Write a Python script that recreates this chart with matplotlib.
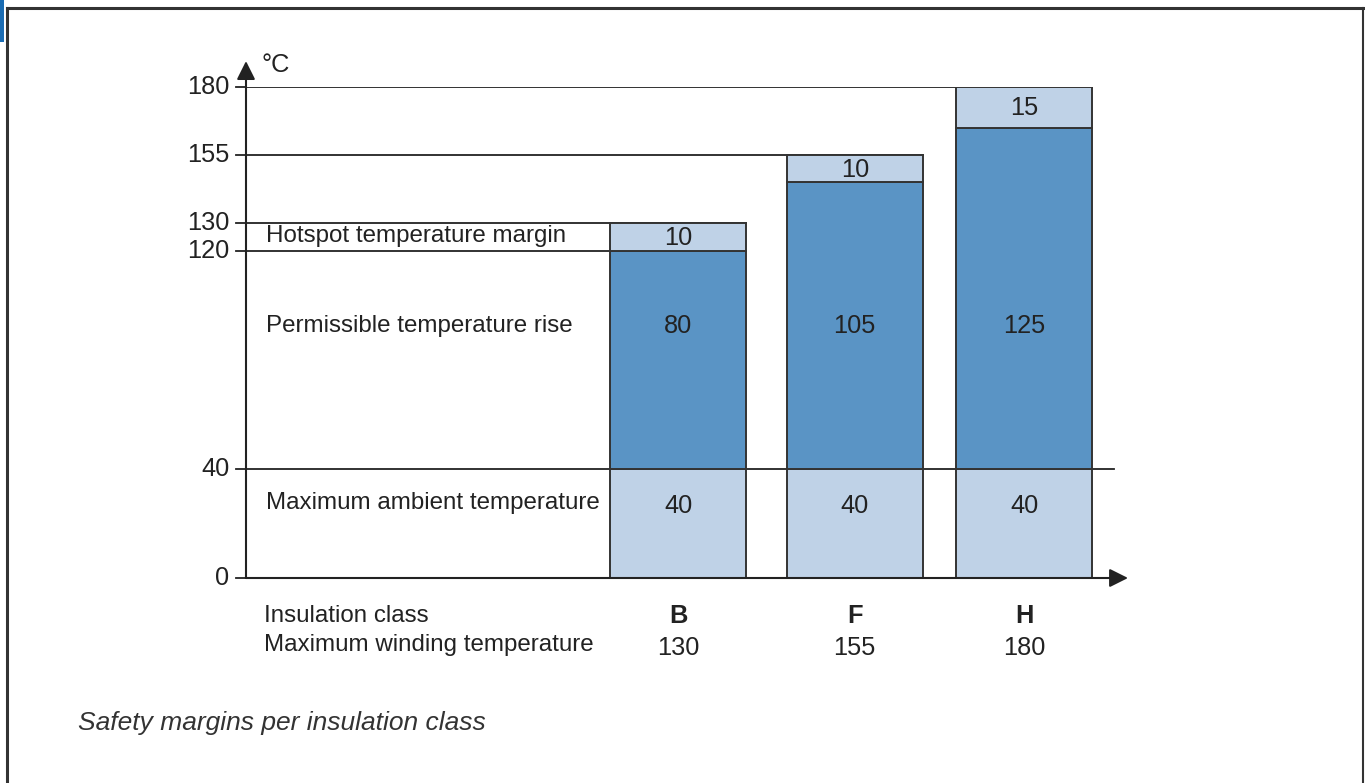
import numpy as np
import matplotlib.pyplot as plt
from matplotlib.patches import Rectangle

plt.rcParams['font.family'] = ['Liberation Sans', 'DejaVu Sans']

# data
classes = ['B', 'F', 'H']
max_winding = [130, 155, 180]
ambient = [40, 40, 40]
rise = [80, 105, 125]
margin = [10, 10, 15]
yticks = [0, 40, 120, 130, 155, 180]
row_labels = ['Hotspot temperature margin', 'Permissible temperature rise',
              'Maximum ambient temperature']

light = '#bfd2e7'
dark = '#5a94c5'
ink = '#222222'

fig = plt.figure(figsize=(13.65, 7.83), dpi=100)
W, H = 1365, 783
# axes: x axis from px 246 to 1128, y from 578 (0) to 87 (180)
ax = fig.add_axes([246 / W, (H - 578) / H, (1128 - 246) / W, (578 - 87) / H])
ax.set_xlim(-2.50, 2.60)
ax.set_ylim(0, 180)
ax.axis('off')

x = np.array([0, 1.02, 2.0])
w = 0.786

# reference lines from the y axis
x0 = -2.50
ax.plot([x0, x[0] - w / 2], [120, 120], color=ink, lw=1.3, zorder=1)
ax.plot([x0, x[0] + w / 2], [130, 130], color=ink, lw=1.3, zorder=1)
ax.plot([x0, x[1] + w / 2], [155, 155], color=ink, lw=1.3, zorder=1)
ax.plot([x0, x[2] + w / 2], [180, 180], color=ink, lw=1.3, zorder=1)
ax.plot([x0, 2.52], [40, 40], color=ink, lw=1.3, zorder=1)

# stacked bars
ax.bar(x, ambient, w, color=light, edgecolor='#333333', lw=1.4, zorder=2)
ax.bar(x, rise, w, bottom=ambient, color=dark, edgecolor='#333333', lw=1.4, zorder=2)
ax.bar(x, margin, w, bottom=np.add(ambient, rise), color=light,
       edgecolor='#333333', lw=1.4, zorder=2)

fs = 18.3
lfs = 17.4
for i in range(len(classes)):
    top = ambient[i] + rise[i]
    ax.text(x[i], 26.5, str(ambient[i]), ha='center', va='center',
            fontsize=fs, color=ink, zorder=3)
    ax.text(x[i], 92.5, str(rise[i]), ha='center', va='center', fontsize=fs,
            color=ink, zorder=3)
    ax.text(x[i], top + margin[i] / 2 - 0.3, str(margin[i]),
            ha='center', va='center', fontsize=fs, color=ink, zorder=3)

# axes with arrows
ax.annotate('', xy=(x0, 189.5), xytext=(x0, 0),
            arrowprops=dict(arrowstyle='-|>', color=ink, lw=1.5,
                            mutation_scale=28, shrinkA=0, shrinkB=0),
            annotation_clip=False)
ax.annotate('', xy=(2.60, 0), xytext=(x0, 0),
            arrowprops=dict(arrowstyle='-|>', color=ink, lw=1.5,
                            mutation_scale=28, shrinkA=0, shrinkB=0),
            annotation_clip=False)
ax.text(x0 + 0.09, 188, '°C', fontsize=fs, color=ink, va='center', ha='left')

for t in yticks:
    ax.plot([x0 - 0.055, x0], [t, t], color=ink, lw=1.3, clip_on=False)
    ax.text(x0 - 0.095, t, str(t), ha='right', va='center', fontsize=fs, color=ink)

# row labels
lx = x0 + 0.115
ax.text(lx, 125.5, row_labels[0], fontsize=lfs, va='center', ha='left', color=ink)
ax.text(lx, 92.5, row_labels[1], fontsize=lfs, va='center', ha='left', color=ink)
ax.text(lx, 27.5, row_labels[2], fontsize=lfs, va='center', ha='left', color=ink)

ax.text(lx - 0.01, -14, 'Insulation class', fontsize=lfs, va='center', ha='left', color=ink)
ax.text(lx - 0.01, -24.5, 'Maximum winding temperature', fontsize=lfs, va='center',
        ha='left', color=ink)
for i in range(len(classes)):
    ax.text(x[i], -13.8, classes[i], fontsize=fs, fontweight='bold', ha='center',
            va='center', color=ink)
    ax.text(x[i], -25.8, str(max_winding[i]), fontsize=fs, ha='center',
            va='center', color=ink)

# caption
fig.text(78 / W, 1 - 723 / H, 'Safety margins per insulation class', fontsize=19,
         style='italic', color='#333333', ha='left', va='center')

# frame
fig.add_artist(plt.Line2D([7 / W, 7 / W], [0, 1 - 8 / H], color='#333333', lw=2.2))
fig.add_artist(plt.Line2D([7 / W, 1363 / W], [1 - 8 / H, 1 - 8 / H], color='#333333', lw=2.2))
fig.add_artist(plt.Line2D([1363 / W, 1363 / W], [0, 1 - 8 / H], color='#333333', lw=1.5))
fig.add_artist(Rectangle((0, 1 - 42 / H), 4 / W, 42 / H, transform=fig.transFigure,
                         color='#1a6cb3', lw=0))

fig.savefig('out.png', dpi=100)
